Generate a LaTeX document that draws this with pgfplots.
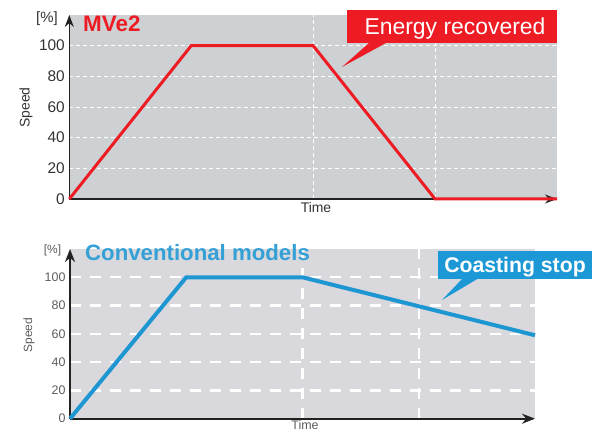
\documentclass[border=0pt]{standalone}
\usepackage{fontspec}
\setmainfont{Liberation Sans}
\usepackage{pgfplots}
\pgfplotsset{compat=1.18}
\usetikzlibrary{arrows.meta}

\definecolor{topgray}{HTML}{CDD1D4}
\definecolor{botgray}{HTML}{D9D9DD}
\definecolor{mvred}{HTML}{ED1C24}
\definecolor{convblue}{HTML}{1E96D2}
\definecolor{boxblue}{HTML}{1B98D5}
\definecolor{txtgray}{HTML}{333333}
\definecolor{axisdark}{HTML}{222222}

\pgfplotsset{
  speedaxis/.style={
    scale only axis,
    enlargelimits=false,
    xmin=0, xmax=4, ymin=0, ymax=120,
    axis lines=left,
    xtick={2,3}, xticklabels={},
    ytick={0,20,...,100},
    xmajorgrids, ymajorgrids,
    major tick length=0pt,
    /pgf/number format/assume math mode=true,
    clip=false,
  }
}

\begin{document}
\begin{tikzpicture}
\useasboundingbox (0,0) rectangle (603bp,433bp);

% top: MVe2
\begin{axis}[speedaxis,
  at={(69.3bp,234bp)}, anchor=south west,
  width=487.7bp, height=184bp,
  axis background/.style={fill=topgray},
  axis line style={axisdark, line width=1.1bp, -{Stealth[length=12bp,width=9bp]}},
  major grid style={white, line width=0.9bp, dash pattern=on 4bp off 3bp},
  yticklabel style={font=\fontsize{15.5}{15.5}\selectfont, text=txtgray, xshift=-1bp},
]
\addplot[mvred, line width=3bp, line join=miter] coordinates {
  (0,0) (1,100) (2,100) (3,0) (4,0)};
\end{axis}

% bottom: conventional models
\begin{axis}[speedaxis,
  at={(70bp,14.3bp)}, anchor=south west,
  width=465bp, height=169.7bp,
  axis background/.style={fill=botgray},
  axis line style={axisdark, line width=2bp, -{Stealth[length=13bp,width=10bp]}},
  major grid style={white, line width=2.2bp, dash pattern=on 11bp off 9bp},
  yticklabel style={font=\fontsize{12.5}{12.5}\selectfont, text=txtgray!80, xshift=-1bp},
]
\addplot[convblue, line width=4bp, line join=miter] coordinates {
  (0,0) (1,100) (2,100) (4,59)};
\end{axis}

% labels and callouts (picture pixels, origin top left)
\begin{scope}[x=1bp, y=-1bp, shift={(0,433bp)}]
  % top chart
  \node[font=\fontsize{15}{15}\selectfont, text=txtgray, inner sep=0] at (47,18.5) {[\%]};
  \node[rotate=90, font=\fontsize{14}{14}\selectfont, text=txtgray, inner sep=0] at (26,107.5) {Speed};
  \node[anchor=base, font=\fontsize{14}{14}\selectfont, text=txtgray, inner sep=0] at (316,213) {Time};
  \node[anchor=base west, font=\bfseries\fontsize{22.5}{22.5}\selectfont, text=mvred, inner sep=0] at (83,32) {MVe2};
  \fill[mvred] (347,10) rectangle (557,43.5);
  \fill[mvred] (369,43) -- (386,43) -- (342,67) -- cycle;
  \node[anchor=base, font=\fontsize{23}{23}\selectfont, text=white, inner sep=0] at (455,35) {Energy recovered};
  % bottom chart
  \node[font=\fontsize{12}{12}\selectfont, text=txtgray!80, inner sep=0] at (52.5,250) {[\%]};
  \node[rotate=90, font=\fontsize{12}{12}\selectfont, text=txtgray!80, inner sep=0] at (29,335) {Speed};
  \node[anchor=base, font=\fontsize{12.5}{12.5}\selectfont, text=txtgray!80, inner sep=0] at (305,430) {Time};
  \node[anchor=base west, font=\bfseries\fontsize{22.3}{22.3}\selectfont, text=convblue!90, inner sep=0] at (85,261) {Conventional models};
  \fill[boxblue] (438,251) rectangle (592,279);
  \fill[boxblue] (463,278) -- (479,278) -- (442,300) -- cycle;
  \node[anchor=base, font=\bfseries\fontsize{21.3}{21.3}\selectfont, text=white, inner sep=0] at (515,273) {Coasting stop};
\end{scope}
\end{tikzpicture}
\end{document}
